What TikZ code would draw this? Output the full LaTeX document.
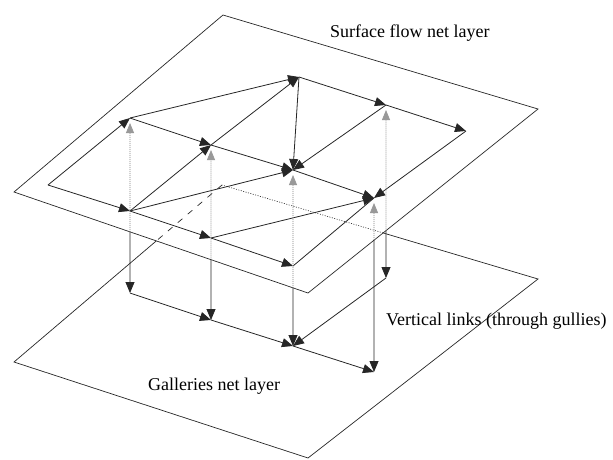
\documentclass[tikz,border=0pt]{standalone}
\usepackage{fontspec}
\setmainfont{Liberation Serif}
\usetikzlibrary{arrows.meta}
\begin{document}
\begin{tikzpicture}[x=1pt,y=-1pt,
  plane/.style={draw=black!85,line width=0.7pt},
  hidplane/.style={draw=black!85,line width=0.6pt,dash pattern=on 1pt off 1.5pt},
  dashplane/.style={draw=black!85,line width=0.7pt,dash pattern=on 6pt off 7pt},
  link/.style={draw=black!85,line width=0.8pt,-{Triangle[length=11pt,width=9pt]}},
  plain/.style={draw=black!85,line width=0.8pt},
  uplink/.style={draw=gray,line width=0.8pt,dash pattern=on 1pt off 1pt,shorten >=5pt,
     -{Triangle[length=10pt,width=8pt,fill=gray!80,color=gray!80]}},
  downlink/.style={draw=black!85,line width=0.8pt,-{Triangle[length=11pt,width=9pt]}},
  lbl/.style={font=\fontsize{18}{20}\selectfont,inner sep=0pt,anchor=base west}]
\useasboundingbox (0,0) rectangle (613,459);
% plane corners
\coordinate (UT) at (223,15);
\coordinate (UR) at (538,109);
\coordinate (UB) at (308,293);
\coordinate (UL) at (14,192);
\coordinate (LT) at (222,185);
\coordinate (LR) at (538,279);
\coordinate (LB) at (308,458);
\coordinate (LL) at (14,362);
% upper net nodes
\coordinate (P0) at (48,185);
\coordinate (A) at (130,118);
\coordinate (H) at (130,211);
\coordinate (B) at (211,145);
\coordinate (I) at (211,238);
\coordinate (C) at (299,77);
\coordinate (F) at (293,170);
\coordinate (J) at (293,266);
\coordinate (D) at (386,105);
\coordinate (G) at (374,198);
\coordinate (E) at (466,131);
% lower net nodes
\coordinate (Hl) at (130,293);
\coordinate (Il) at (211,320);
\coordinate (Jl) at (293,346);
\coordinate (Kl) at (374,372);
\coordinate (Dl) at (386,278);
% crossings
\coordinate (X1) at (intersection of LT--LR and UR--UB);
\coordinate (X2) at (intersection of LL--LT and UL--UB);
\coordinate (cA) at (intersection of A--Hl and UL--UB);
\coordinate (cB) at (intersection of B--Il and UL--UB);
\coordinate (cF) at (intersection of F--Jl and UL--UB);
\coordinate (cG) at (intersection of G--Kl and UR--UB);
\coordinate (cD) at (intersection of D--Dl and UR--UB);
% lower plane
\draw[plane] (X2) -- (LL) -- (LB) -- (LR) -- (X1);
\draw[hidplane] (X1) -- (LT);
\draw[dashplane] (LT) -- (X2);
% upper plane
\draw[plane] (UT) -- (UR) -- (UB) -- (UL) -- cycle;
% upper net
\draw[link] (P0) -- (A);
\draw[link] (P0) -- (H);
\draw[link] (A) -- (B);
\draw[link] (B) -- (F);
\draw[link] (F) -- (G);
\draw[link] (H) -- (I);
\draw[link] (I) -- (J);
\draw[link] (C) -- (D);
\draw[link] (D) -- (E);
\draw[link] (H) -- (B);
\draw[link] (B) -- (C);
\draw[link] (A) -- (C);
\draw[link] (H) -- (F);
\draw[link] (I) -- (G);
\draw[link] (C) -- (F);
\draw[link] (D) -- (F);
\draw[link] (E) -- (G);
\draw[plain] (G) -- (J);
% lower net
\draw[link] (Hl) -- (Il);
\draw[link] (Il) -- (Jl);
\draw[link] (Jl) -- (Kl);
\draw[link] (Dl) -- (Jl);
% vertical links
\draw[uplink] (cA) -- (A);
\draw[uplink] (cB) -- (B);
\draw[uplink] (cF) -- (F);
\draw[uplink] (cG) -- (G);
\draw[uplink] (cD) -- (D);
\draw[downlink] (cA) -- (Hl);
\draw[downlink] (cB) -- (Il);
\draw[downlink] (cF) -- (Jl);
\draw[downlink] (cG) -- (Kl);
\draw[downlink] (cD) -- (Dl);
% labels
\node[lbl] (surf) at (330,37) {Surface flow net layer};
\node[lbl] (vert) at (386,325) {Vertical links (through gullies)};
\node[lbl] (gall) at (148,390) {Galleries net layer};
\end{tikzpicture}
\end{document}
